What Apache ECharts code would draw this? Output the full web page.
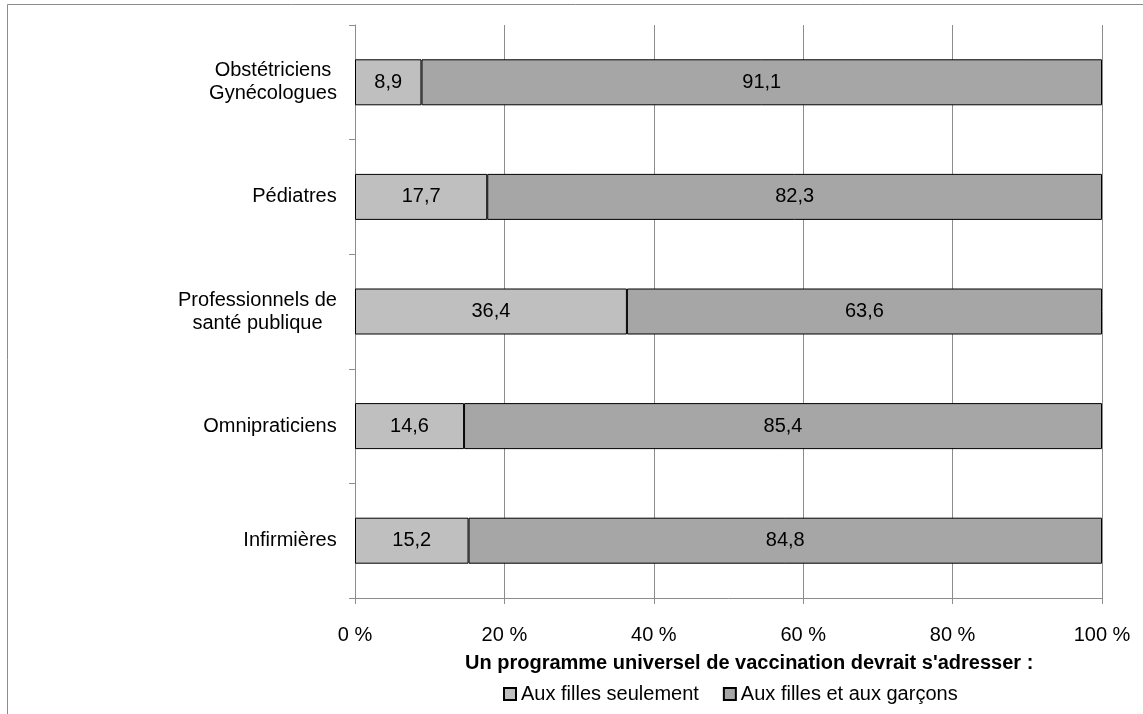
<!DOCTYPE html>
<html>
<head>
<meta charset="utf-8">
<script src="https://cdn.jsdelivr.net/npm/echarts@6/dist/echarts.min.js"></script>
<style>
  html, body { margin: 0; padding: 0; background: #fff; }
  #chart { width: 1143px; height: 714px; }
</style>
</head>
<body>
<div id="chart"></div>
<script>
// categories, top to bottom
const categories = [
  "Obstétriciens\nGynécologues",
  "Pédiatres",
  "Professionnels de\nsanté publique",
  "Omnipraticiens",
  "Infirmières"
];
const seriesNames = ["Aux filles seulement", "Aux filles et aux garçons"];
const fillesSeules = [8.9, 17.7, 36.4, 14.6, 15.2];
const fillesGarcons = [91.1, 82.3, 63.6, 85.4, 84.8];
const xTicks = [0, 20, 40, 60, 80, 100];
const axisTitle = "Un programme universel de vaccination devrait s'adresser :";

const font = "'Liberation Sans', 'DejaVu Sans', sans-serif";
const gray = "#8c8c8c";
const fs = 20;

const myChart = echarts.init(document.getElementById("chart"));

// virgule décimale
const fmt = (p) => String(p.value).replace(".", ",");

// largeur de chaque libellé pour centrer les lignes dans un bloc aligné à droite
const ctx = document.createElement("canvas").getContext("2d");
ctx.font = fs + "px " + font;
const rich = {};
categories.forEach((c, i) => {
  const w = Math.max(...c.split("\n").map((s) => ctx.measureText(s).width));
  rich["c" + i] = { width: Math.ceil(w), align: "center", fontSize: fs, lineHeight: 23, fontFamily: font, color: "#000" };
});

const option = {
  backgroundColor: "#fff",
  animation: false,
  textStyle: { fontFamily: font, color: "#000" },
  graphic: [
    {
      // cadre du graphique (coupé à droite et en bas)
      type: "rect",
      shape: { x: 7.5, y: 4.5, width: 1300, height: 900 },
      style: { fill: null, stroke: gray, lineWidth: 1 },
      silent: true
    }
  ],
  title: {
    text: axisTitle,
    left: 465,
    top: 653,
    padding: 0,
    textStyle: { fontFamily: font, fontSize: fs, fontWeight: "bold", color: "#000" }
  },
  legend: {
    data: seriesNames,
    left: 498,
    top: 679,
    itemWidth: 12,
    itemHeight: 12,
    itemGap: 24,
    icon: "rect",
    textStyle: { fontFamily: font, fontSize: fs, color: "#000" }
  },
  grid: {
    left: 355,
    right: 41,
    top: 25,
    bottom: 116,
    containLabel: false
  },
  xAxis: {
    type: "value",
    min: 0,
    max: 100,
    interval: 20,
    axisLine: { show: true, lineStyle: { color: gray, width: 1 } },
    axisTick: { show: true, length: 6, lineStyle: { color: gray } },
    splitLine: { show: true, lineStyle: { color: gray, width: 1 } },
    axisLabel: {
      margin: 27,
      fontSize: fs,
      color: "#000",
      fontFamily: font,
      formatter: (v) => xTicks.includes(v) ? v + " %" : ""
    }
  },
  yAxis: {
    type: "category",
    inverse: true,
    data: categories,
    axisLine: { show: true, lineStyle: { color: gray, width: 1 } },
    axisTick: { show: true, length: 6, lineStyle: { color: gray } },
    splitLine: { show: false },
    axisLabel: {
      margin: 18,
      align: "right",
      color: "#000",
      formatter: (v, i) => v.split("\n").map((s) => "{c" + i + "|" + s + "}").join("\n"),
      rich: rich
    }
  },
  series: [
    {
      name: seriesNames[0],
      type: "bar",
      stack: "total",
      barWidth: 46,
      data: fillesSeules,
      itemStyle: { color: "#bfbfbf", borderColor: "#000", borderWidth: 1 },
      label: { show: true, position: "inside", fontSize: fs, color: "#000", fontFamily: font, formatter: fmt }
    },
    {
      name: seriesNames[1],
      type: "bar",
      stack: "total",
      barWidth: 46,
      data: fillesGarcons,
      itemStyle: { color: "#a6a6a6", borderColor: "#000", borderWidth: 1 },
      label: { show: true, position: "inside", fontSize: fs, color: "#000", fontFamily: font, formatter: fmt }
    }
  ]
};

myChart.setOption(option);
</script>
</body>
</html>
